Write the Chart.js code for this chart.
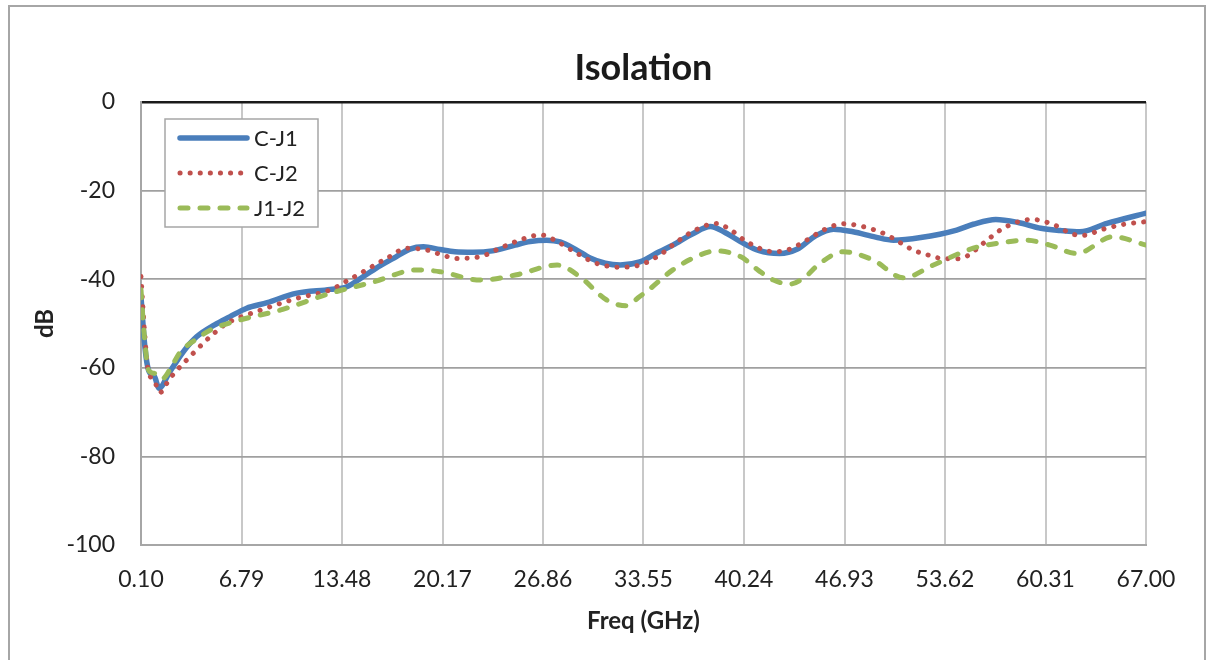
<!DOCTYPE html>
<html>
<head>
<meta charset="utf-8">
<title>Isolation</title>
<script src="https://cdn.jsdelivr.net/npm/chart.js@4/dist/chart.umd.min.js"></script>
<style>
  html, body { margin: 0; padding: 0; background: #fff; }
  #wrap { position: relative; width: 1211px; height: 660px; overflow: hidden; }
  #frame { position: absolute; left: 8px; top: 5px; width: 1194px; height: 720px; border: 2px solid #a6a6a6; }
  #canvas { position: absolute; left: 0; top: 0; }
</style>
</head>
<body>
<div id="wrap">
  <div id="frame"></div>
  <canvas id="canvas" width="1211" height="660"></canvas>
</div>
<script>
var freqTicks = [0.10, 6.79, 13.48, 20.17, 26.86, 33.55, 40.24, 46.93, 53.62, 60.31, 67.00];
var freqLabels = ["0.10", "6.79", "13.48", "20.17", "26.86", "33.55", "40.24", "46.93", "53.62", "60.31", "67.00"];
var seriesNames = ["C-J1", "C-J2", "J1-J2"];

var cj1Freq = [0.1, 0.35, 0.6, 1.0, 1.3, 2.0, 3.0, 3.8, 5.0, 6.0, 7.1, 8.5, 10.4, 12.7, 13.8, 14.9, 16.0, 17.1, 18.0, 18.9,
	20.0, 21.0, 22.2, 23.5, 25.0, 26.0, 27.1, 28.0, 29.0, 30.0, 31.0, 32.0, 33.3, 34.6, 35.5, 36.8, 38.0, 39.0, 40.0,
	41.2, 42.6, 43.8, 45.0, 46.2, 47.5, 49.0, 50.2, 52.0, 54.4, 55.5, 57.0, 58.5, 60.0, 61.3, 62.6, 64.4, 67.0];
var cj1Db = [-44, -55, -60.5, -62, -64.6, -61, -56, -53, -50.3, -48.5, -46.6, -45.3, -43.2, -42.3, -41.7, -39.4, -37, -34.9, -33.2, -32.7,
	-33.3, -33.8, -33.9, -33.6, -32.3, -31.5, -31.2, -31.6, -33.2, -35.2, -36.4, -36.8, -36.1, -33.8, -32.3, -29.8, -28.1, -29.5, -31.5,
	-33.5, -34.2, -33.2, -30.2, -28.7, -29.3, -30.5, -31.2, -30.6, -28.9, -27.6, -26.5, -27.2, -28.5, -29.0, -29.3, -27.4, -25.1];

var cj2Freq = [0.1, 0.3, 0.55, 1.0, 1.35, 2.0, 3.58, 4.7, 5.8, 7.8, 10.5, 12.7, 13.9, 15.1, 16.5, 17.8, 19.1, 20.2, 21.1, 22.7,
	24.0, 25.3, 26.7, 28.0, 29.2, 30.4, 32.0, 33.3, 34.65, 35.8, 37.0, 38.4, 39.4, 40.4, 42.2, 43.3, 44.4, 45.6, 46.85,
	48.96, 49.74, 50.96, 51.6, 52.3, 53.0, 54.4, 55.07, 56.17, 57.4, 58.73, 59.39, 60.79, 62.1, 62.76, 64.16, 65.54, 67.0];
var cj2Db = [-39.4, -50, -60, -63, -65.6, -62.5, -56.7, -53, -50, -47.3, -44.3, -42.4, -40.2, -37.9, -35.2, -33.0, -33.4, -34.6, -35.3, -34.9,
	-33.0, -31.2, -30.0, -31.9, -34.3, -36.4, -37.3, -36.8, -34.5, -31.5, -28.9, -27.4, -29, -31.5, -33.8, -33.2, -31.2, -28.8, -27.5,
	-28.9, -30.0, -32.4, -33.6, -34.3, -35.1, -35.4, -34.8, -31.9, -28.7, -26.8, -26.5, -27.6, -29.8, -30.1, -28.7, -27.6, -27.0];

var j1j2Freq = [0.1, 0.3, 0.6, 0.9, 1.2, 1.5, 2.25, 2.7, 3.8, 4.7, 6.7, 9.35, 12.7, 15.6, 18.45, 20.0, 22.7, 25.1, 27.8, 29.3,
	31.1, 32.4, 33.3, 33.9, 35.5, 37.0, 38.4, 40.0, 41.2, 42.2, 43.3, 44.3, 45.3, 46.85, 48.85, 50.85, 52.85, 55.5, 57.3,
	59.05, 60.6, 62.4, 64.8, 67.0];
var j1j2Db = [-42.4, -52, -60.5, -61.2, -61.5, -62.5, -59, -56.5, -53.5, -51.5, -49.2, -47, -43.2, -40.6, -37.9, -38.3, -40.2, -39.0, -36.8, -39.4,
	-44.7, -46.0, -43.9, -42.4, -37.9, -35.0, -33.6, -34.9, -38, -40.2, -41.1, -39.5, -36.4, -33.8, -35.7, -39.7, -36.8, -33.0, -31.8,
	-31.2, -32.3, -34.2, -30.4, -32.3];

function toPoints(xs, ys) {
	return xs.map(function(x, i) { return { x: x, y: ys[i] }; });
}

var fontFamily = "Lato, 'Open Sans', sans-serif";
var blue = "#4a7ebb", red = "#c0504d", green = "#9bbb59";

var lineStyles = [
	{ color: blue, width: 5.5, dash: [] },
	{ color: red, width: 5, dash: [0.1, 10] },
	{ color: green, width: 5, dash: [8, 12] }
];

// legend box inside the plot area, like the Excel one
var insideLegend = {
	id: 'insideLegend',
	afterDraw: function(chart) {
		var ctx = chart.ctx, area = chart.chartArea;
		var x = area.left + 24, y = area.top + 17, w = 153, h = 108;
		ctx.save();
		ctx.fillStyle = '#fff';
		ctx.fillRect(x, y, w, h);
		ctx.strokeStyle = '#a6a6a6';
		ctx.lineWidth = 1.5;
		ctx.strokeRect(x, y, w, h);
		ctx.font = '22px ' + fontFamily;
		ctx.textBaseline = 'middle';
		seriesNames.forEach(function(name, i) {
			var ly = y + 19 + i * 35;
			var st = lineStyles[i];
			ctx.beginPath();
			ctx.strokeStyle = st.color;
			ctx.lineWidth = st.width;
			ctx.lineCap = 'round';
			ctx.setLineDash(st.dash);
			ctx.moveTo(x + 15, ly);
			ctx.lineTo(x + 82, ly);
			ctx.stroke();
			ctx.setLineDash([]);
			ctx.fillStyle = '#222';
			ctx.fillText(name, x + 89, ly + 1);
		});
		ctx.restore();
	}
};

window.onload = function() {
	var ctx = document.getElementById("canvas").getContext("2d");
	var all = [toPoints(cj1Freq, cj1Db), toPoints(cj2Freq, cj2Db), toPoints(j1j2Freq, j1j2Db)];
	window.myLine = new Chart(ctx, {
		type: 'line',
		data: {
			datasets: seriesNames.map(function(name, i) {
				return {
					label: name,
					data: all[i],
					borderColor: lineStyles[i].color,
					borderWidth: lineStyles[i].width,
					borderDash: lineStyles[i].dash,
					borderCapStyle: 'round',
					borderJoinStyle: 'round',
					pointRadius: 0,
					fill: false,
					cubicInterpolationMode: 'monotone',
					order: 3 - i
				};
			})
		},
		options: {
			responsive: false,
			animation: false,
			layout: { padding: { left: 0, right: 65, top: 0, bottom: 0 } },
			plugins: {
				legend: { display: false },
				tooltip: { enabled: false },
				title: {
					display: true,
					text: 'Isolation',
					fullSize: false,
					color: '#1a1a1a',
					font: { family: fontFamily, size: 36, weight: 'bold', lineHeight: 1.2 },
					padding: { top: 47.2, bottom: 11.6 }
				}
			},
			scales: {
				x: {
					type: 'linear',
					min: 0.1,
					max: 67,
					afterBuildTicks: function(scale) {
						scale.ticks = freqTicks.map(function(v) { return { value: v }; });
					},
					afterFit: function(scale) { scale.height = 115; },
					ticks: {
						autoSkip: false,
						maxRotation: 0,
						padding: 21,
						color: '#222',
						font: { family: fontFamily, size: 23 },
						callback: function(v, i) { return freqLabels[i]; }
					},
					grid: { color: '#c8c8c8', lineWidth: 2, drawTicks: false },
					border: { color: '#a6a6a6', width: 2 },
					title: {
						display: true,
						text: 'Freq (GHz)',
						color: '#222',
						font: { family: fontFamily, size: 24, weight: 'bold', lineHeight: 1.2 },
						padding: { top: 0, bottom: 24.6 }
					}
				},
				y: {
					min: -100,
					max: 0,
					afterFit: function(scale) { scale.width = 141; },
					ticks: {
						stepSize: 20,
						padding: 26,
						color: '#222',
						font: { family: fontFamily, size: 23 }
					},
					grid: {
						drawTicks: false,
						color: function(c) { return c.tick && c.tick.value === 0 ? '#1a1a1a' : '#a0a0a0'; },
						lineWidth: function(c) { return c.tick && c.tick.value === 0 ? 2.5 : 1.8; }
					},
					border: { color: '#a6a6a6', width: 2 },
					title: {
						display: true,
						text: 'dB',
						color: '#222',
						font: { family: fontFamily, size: 24, weight: 'bold', lineHeight: 1.2 },
						padding: { top: 31.1, bottom: 0 }
					}
				}
			}
		},
		plugins: [insideLegend]
	});
};
</script>
</body>
</html>
